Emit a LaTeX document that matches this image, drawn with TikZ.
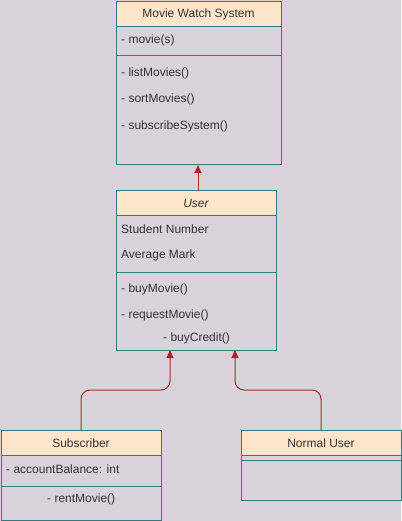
\documentclass[tikz,border=0pt]{standalone}
\usepackage{fontspec}
\setmainfont{Liberation Sans}
\usetikzlibrary{arrows.meta}
\definecolor{canvas}{HTML}{DAD2DB}
\definecolor{head}{HTML}{FCE5CA}
\definecolor{frame}{HTML}{2E7D80}
\definecolor{ink}{HTML}{333333}
\definecolor{link}{HTML}{A3282A}

\begin{document}
\begin{tikzpicture}[
        x=1pt,y=-1pt,
        font=\fontsize{12}{14}\selectfont,
        cls/.style={draw=frame,fill=canvas,anchor=north west,inner sep=0pt,line width=1pt},
        hdr/.style={cls,fill=head,text=ink,minimum height=25pt},
        item/.style={anchor=west,text=ink,inner sep=0pt},
        sep/.style={draw=frame,line width=1pt},
        arr/.style={-{Triangle[length=8pt,width=7pt]},draw=link,line width=1pt,rounded corners=9pt}
      ]
      \fill[canvas] (0,0) rectangle (401,521);
      \useasboundingbox (0,0) rectangle (401,521);

      % movie watch system
      \node[cls,minimum width=165pt,minimum height=163pt] (mws) at (115.5,1) {};
      \node[hdr,minimum width=165pt] (mwsh) at (115.5,1) {Movie Watch System};
      \node[item] (mwsa) at (121,40) {- movie(s)};
      \draw[sep] (115.5,56) -- (280.5,56);
      \node[item] (mwsm1) at (121,73) {- listMovies()};
      \node[item] (mwsm2) at (121,99) {- sortMovies()};
      \node[item] (mwsm3) at (121,126) {- subscribeSystem()};

      % user
      \node[cls,minimum width=160pt,minimum height=160pt] (user) at (115.5,190) {};
      \node[hdr,minimum width=160pt] (userh) at (115.5,190) {\itshape User};
      \node[item] (usera1) at (121,229) {Student Number};
      \node[item] (usera2) at (121,255) {Average Mark};
      \draw[sep] (115.5,272) -- (275.5,272);
      \node[item] (userm1) at (121,289) {- buyMovie()};
      \node[item] (userm2) at (121,315) {- requestMovie()};
      \node[item] (userm3) at (163,338) {- buyCredit()};

      % subscriber
      \node[cls,minimum width=160pt,minimum height=90pt] (sub) at (0.5,430) {};
      \node[hdr,minimum width=160pt] (subh) at (0.5,430) {Subscriber};
      \node[item] (suba) at (6,469) {- accountBalance: int};
      \draw[sep] (0.5,486) -- (160.5,486);
      \node[item] (subm) at (47,499) {- rentMovie()};

      % normal user
      \node[cls,minimum width=160pt,minimum height=70pt] (norm) at (240.5,430) {};
      \node[hdr,minimum width=160pt] (normh) at (240.5,430) {Normal User};
      \draw[sep] (240.5,460) -- (400.5,460);

      % generalisations
      \coordinate (usert) at (198,190);
      \coordinate (userl) at (170,350);
      \coordinate (userr) at (235,350);
      \draw[arr] (usert) -- (usert |- mws.south);
      \draw[arr] (sub.north) -- ++(0,-40) -| (userl);
      \draw[arr] (norm.north) -- ++(0,-40) -| (userr);
    \end{tikzpicture}
\end{document}
